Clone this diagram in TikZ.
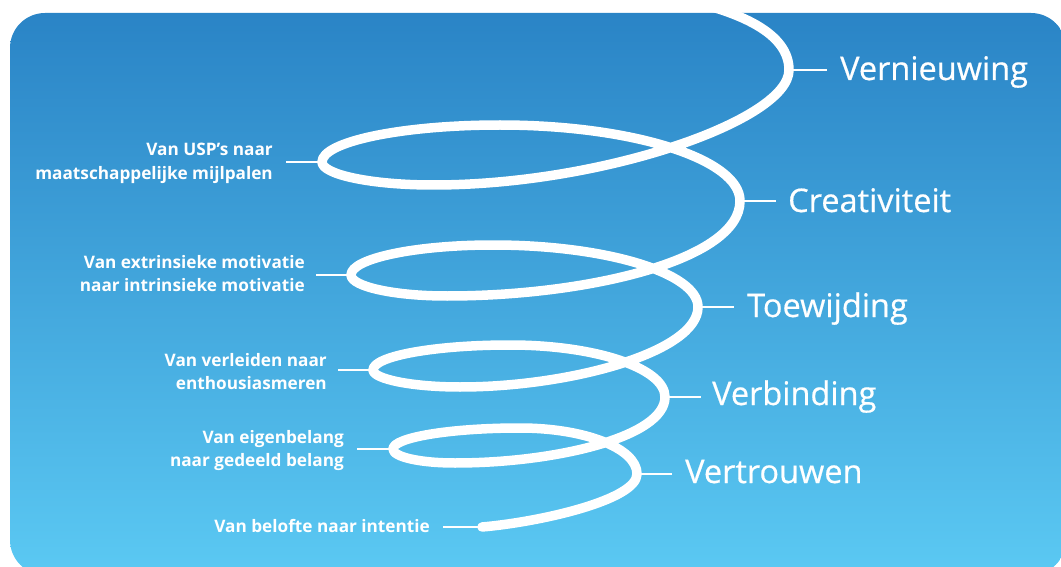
\documentclass[tikz,border=0pt]{standalone}
\usepackage{fontspec}
\setmainfont{Open Sans}
\newfontfamily\stagefont{Open Sans}[FakeBold=0.5]
\usetikzlibrary{calc}
\definecolor{bgtop}{HTML}{2A84C6}
\definecolor{bgbottom}{HTML}{5BC9F3}
\tikzset{
  spiral/.style={white, line width=9.5pt, line cap=round, line join=round},
  tick/.style={white, line width=2pt},
  biglabel/.style={text=white, inner sep=0pt, font=\stagefont\fontsize{32.5}{38}\selectfont},
  smalllabel/.style={text=white, inner sep=0pt, font=\bfseries\fontsize{17.2}{23.5}\selectfont},
}
\newcommand{\twolines}[2]{\begin{tabular}[t]{@{}r@{}}#1\\#2\end{tabular}}
\begin{document}
\begin{tikzpicture}[x=1pt, y=-1pt]
  \useasboundingbox (0,0) rectangle (1061,567);
  \clip (0,0) rectangle (1061,567);
  % background panel
  \shade[top color=bgtop, bottom color=bgbottom, rounded corners=35pt]
    (10,13) rectangle (1066,575);

  % turning points of the helix
  \coordinate (s)  at (482,527);
  \coordinate (r1) at (637,474);
  \coordinate (l1) at (393,449);
  \coordinate (r2) at (665,397);
  \coordinate (l2) at (373,370);
  \coordinate (r3) at (698,307);
  \coordinate (l3) at (351,275);
  \coordinate (r4) at (740,201);
  \coordinate (l4) at (322,162);
  \coordinate (r5) at (789,70);

  % stage labels on the right
  \node[biglabel, anchor=base west] (vern) at (840,80)  {Vernieuwing};
  \node[biglabel, anchor=base west] (crea) at (788,212) {Creativiteit};
  \node[biglabel, anchor=base west] (toew) at (747,317) {Toewijding};
  \node[biglabel, anchor=base west] (verb) at (712,405) {Verbinding};
  \node[biglabel, anchor=base west] (vert) at (685,483) {Vertrouwen};

  % transitions on the left
  \node[smalllabel, anchor=base east] (usp)  at (273,156) {\twolines{Van USP’s naar}{maatschappelijke mijlpalen}};
  \node[smalllabel, anchor=base east] (extr) at (305,268) {\twolines{Van extrinsieke motivatie}{naar intrinsieke motivatie}};
  \node[smalllabel, anchor=base east] (verl) at (327,366) {\twolines{Van verleiden naar}{enthousiasmeren}};
  \node[smalllabel, anchor=base east] (eign) at (344,443) {\twolines{Van eigenbelang}{naar gedeeld belang}};
  \node[smalllabel, anchor=base east] (belo) at (430,532) {Van belofte naar intentie};

  % leader lines
  \draw[tick] (r5) -- ($(r5 -| vern.west)+(-13,0)$);
  \draw[tick] (r4) -- ($(r4 -| crea.west)+(-12,0)$);
  \draw[tick] (r3) -- ($(r3 -| toew.west)+(-13,0)$);
  \draw[tick] (r2) -- ($(r2 -| verb.west)+(-11,0)$);
  \draw[tick] (r1) -- ($(r1 -| vert.west)+(-13,0)$);
  \draw[tick] (l4) -- ($(l4 -| usp.east)+(13,0)$);
  \draw[tick] (l3) -- ($(l3 -| extr.east)+(11,0)$);
  \draw[tick] (l2) -- ($(l2 -| verl.east)+(11,0)$);
  \draw[tick] (l1) -- ($(l1 -| eign.east)+(13,0)$);
  \draw[tick] (s)  -- ($(s -| belo.east)+(13,0)$);

  % the helix, from its lower end upwards
  \draw[spiral]
    (s) .. controls (540,522) and (637,500) .. (r1)
        .. controls (637,448) and (584,428) .. (520,428)
        .. controls (450,428) and (393,437.5) .. (l1)
        .. controls (393,457) and (420,463) .. (455,463)
        .. controls (555,463) and (665,437) .. (r2)
        .. controls (665,368) and (595,345) .. (510,345)
        .. controls (435,345) and (373,356) .. (l2)
        .. controls (373,379) and (412,387) .. (460,387)
        .. controls (570,387) and (698,352) .. (r3)
        .. controls (698,273) and (606,245) .. (493,245)
        .. controls (415,245) and (351,258.5) .. (l3)
        .. controls (351,286.5) and (394,296) .. (447,296)
        .. controls (587,296) and (740,260) .. (r4)
        .. controls (740,159) and (632,125) .. (500,125)
        .. controls (402,125) and (322,141.6) .. (l4)
        .. controls (322,174.7) and (372,185) .. (433,185)
        .. controls (603,185) and (789,120) .. (r5)
        .. controls (789,35) and (745,10) .. (660,-5);
\end{tikzpicture}
\end{document}
